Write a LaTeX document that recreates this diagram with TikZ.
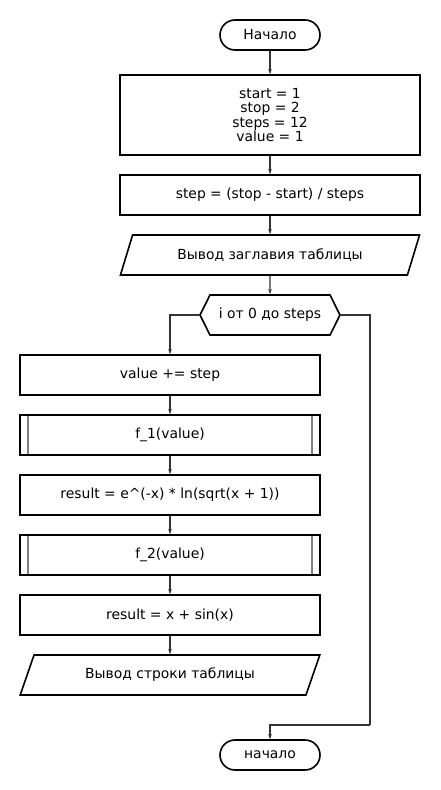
\documentclass[tikz,border=0pt]{standalone}
\usepackage{fontspec}
\setmainfont{DejaVu Sans}
\usetikzlibrary{arrows.meta,shapes.geometric,shapes.symbols}

\begin{document}
\begin{tikzpicture}[
    x=1pt, y=-1pt,
    base/.style={draw, line width=1.6pt, align=center, inner sep=2pt,
                 font=\fontsize{13.9}{14.3}\selectfont},
    term/.style={base, rectangle, rounded corners=15pt,
                 minimum width=100pt, minimum height=30pt},
    proc/.style={base, rectangle, minimum width=300pt, minimum height=40pt},
    sub/.style={proc, path picture={
        \draw[gray, line width=1.2pt]
          ([xshift=8pt]path picture bounding box.north west) --
          ([xshift=8pt]path picture bounding box.south west)
          ([xshift=-8pt]path picture bounding box.north east) --
          ([xshift=-8pt]path picture bounding box.south east);}},
    io/.style={base, trapezium, trapezium left angle=63.43,
               trapezium right angle=116.57, trapezium stretches=true,
               minimum width=300pt, minimum height=40pt},
    loopbox/.style={base, signal, signal to=west and east,
                    signal pointer angle=127,
                    minimum width=140pt, minimum height=40pt},
    arr/.style={-{Stealth[length=5pt,width=3.5pt]}, line width=1.1pt, black!80},
    lnk/.style={line width=1.1pt, black!80},
  ]
  \useasboundingbox (0,0) rectangle (440,790);

  % --- main column ---
  \node[term] (start) at (270,35)  {Начало};
  \node[proc, minimum height=80pt] (init) at (270,115)
    {start = 1\\stop = 2\\steps = 12\\value = 1};
  \node[proc] (step) at (270,195) {step = (stop - start) / steps};
  \node[io]   (head) at (270,255) {Вывод заглавия таблицы};
  \node[loopbox] (loop) at (270,315) {i от 0 до steps};

  \draw[arr] (start) -- (init);
  \draw[arr] (init) -- (step);
  \draw[arr] (step) -- (head);
  \draw[arr] (head) -- (loop);

  % --- loop body ---
  \node[proc] (val)  at (170,375) {value += step};
  \node[sub]  (fone) at (170,435) {f\_1(value)};
  \node[proc] (res1) at (170,495) {result = e\^{}(-x) * ln(sqrt(x + 1))};
  \node[sub]  (ftwo) at (170,555) {f\_2(value)};
  \node[proc] (res2) at (170,615) {result = x + sin(x)};
  \node[io]   (row)  at (170,675) {Вывод строки таблицы};

  \draw[arr] (loop.west) -| (val.north);
  \draw[arr] (val) -- (fone);
  \draw[arr] (fone) -- (res1);
  \draw[arr] (res1) -- (ftwo);
  \draw[arr] (ftwo) -- (res2);
  \draw[arr] (res2) -- (row);

  % --- loop exit ---
  \node[term] (stop) at (270,755) {начало};
  \coordinate (exit) at (370,725);
  \draw[lnk] (loop.east) -| (exit);
  \draw[arr] (exit) -| (stop.north);

\end{tikzpicture}
\end{document}
